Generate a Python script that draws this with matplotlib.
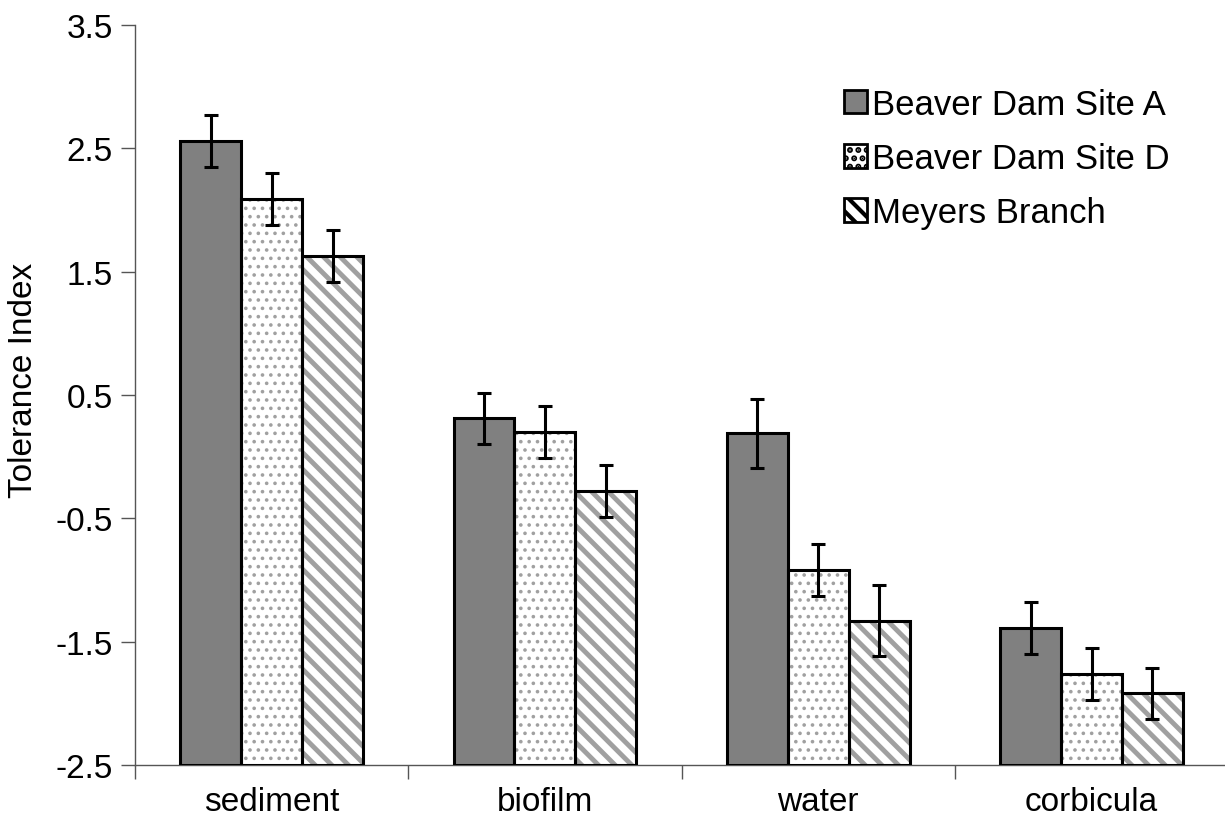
import matplotlib
matplotlib.use("Agg")
import matplotlib.pyplot as plt
import numpy as np

plt.rcParams["font.family"] = ["Liberation Sans", "DejaVu Sans"]
plt.rcParams["axes.unicode_minus"] = False
plt.rcParams["hatch.linewidth"] = 3.0

categories = ["sediment", "biofilm", "water", "corbicula"]
sites = ["Beaver Dam Site A", "Beaver Dam Site D", "Meyers Branch"]
site_a = [2.56, 0.31, 0.19, -1.39]
site_d = [2.09, 0.20, -0.92, -1.76]
meyers = [1.63, -0.28, -1.33, -1.92]
err_a = [0.21, 0.21, 0.28, 0.21]
err_d = [0.21, 0.21, 0.21, 0.21]
err_m = [0.21, 0.21, 0.29, 0.21]
y_ticks = [-2.5, -1.5, -0.5, 0.5, 1.5, 2.5, 3.5]

FS = 24

fig = plt.figure(figsize=(12.25, 8.29), dpi=100)
ax = fig.add_axes([0.1102, 0.0760, 0.8924, 0.8926])

x = np.arange(len(categories))
w = 0.223
base = -2.5
series = [
    (site_a, err_a, "#808080", None, "#808080", 1.0),
    (site_d, err_d, "white", "..", "#a0a0a0", 1.4),
    (meyers, err_m, "white", "\\\\", "#a0a0a0", 3.5),
]


def set_hlw(patch, lw):
    if hasattr(patch, "set_hatch_linewidth"):
        patch.set_hatch_linewidth(lw)


handles = []
for i, (vals, errs, fc, hatch, hc, hlw) in enumerate(series):
    pos = x + (i - 1) * w
    heights = np.array(vals) - base
    # fill + hatch drawn in gray, then the black outline on top
    bars = ax.bar(pos, heights, w, bottom=base, color=fc, hatch=hatch, edgecolor=hc, linewidth=0, zorder=2)
    for b in bars:
        set_hlw(b, hlw)
    ax.bar(pos, heights, w, bottom=base, fill=False, edgecolor="black", linewidth=2.2, zorder=3)
    ax.errorbar(pos, vals, yerr=errs, fmt="none", ecolor="black", elinewidth=2.2,
                capsize=5, capthick=2.2, zorder=4)
    h = plt.Rectangle((0, 0), 1, 1, facecolor=fc, hatch=hatch, edgecolor="black", linewidth=2)
    set_hlw(h, min(hlw, 1.5))
    handles.append(h)

ax.set_ylim(-2.5, 3.5)
ax.set_xlim(-0.5, 3.5)
ax.set_yticks(y_ticks)
ax.set_yticklabels([f"{t:g}" for t in y_ticks])
ax.set_xticks(x)
ax.set_xticklabels(categories)
ax.set_xticks([-0.5, 0.5, 1.5, 2.5], minor=True)
ax.tick_params(axis="x", which="major", length=0, pad=15, labelsize=FS)
ax.tick_params(axis="x", which="minor", length=10, width=1, color="#555555")
ax.tick_params(axis="y", length=10, width=1, color="#555555", labelsize=FS, pad=6)
for s in ("top", "right"):
    ax.spines[s].set_visible(False)
for s in ("left", "bottom"):
    ax.spines[s].set_linewidth(1)
    ax.spines[s].set_color("#555555")
ax.set_ylabel("Tolerance Index", fontsize=FS)
ax.yaxis.set_label_coords(-0.088, 0.5216)

leg = ax.legend(handles, sites, loc="upper left", bbox_to_anchor=(0.6745, 0.914),
                bbox_transform=fig.transFigure, frameon=False, fontsize=25,
                handlelength=0.68, handleheight=0.68, handletextpad=0.15,
                labelspacing=0.61, borderpad=0)

fig.savefig("out.png", dpi=100)
